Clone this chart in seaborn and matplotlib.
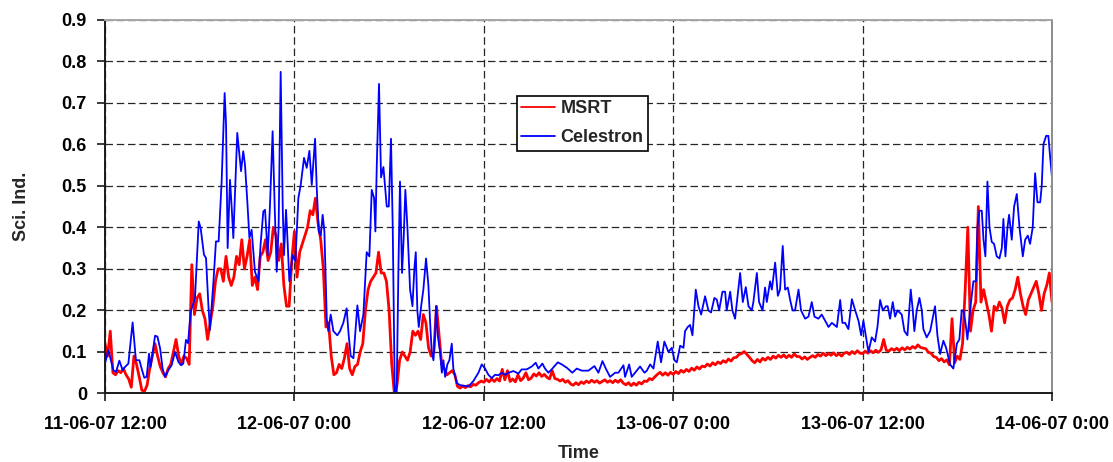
import numpy as np
import pandas as pd
import matplotlib
matplotlib.use("Agg")
import matplotlib.pyplot as plt
import seaborn as sns

# Scintillation index records, starting 11-06-07 12:00
start_time = pd.Timestamp("2007-06-11 12:00")
series_names = ["MSRT", "Celestron"]
series_colors = ["#FF0000", "#0000FF"]

# MSRT: one value every 10 minutes (one row per hour)
msrt_step_minutes = 10
msrt_values = [
    0.12, 0.09, 0.15, 0.05, 0.045, 0.055,     # hour 0
    0.05, 0.06, 0.045, 0.035, 0.015, 0.09,
    0.07, 0.04, 0.008, 0.005, 0.02, 0.06,
    0.09, 0.12, 0.09, 0.065, 0.05, 0.04,
    0.06, 0.07, 0.10, 0.13, 0.09, 0.07,
    0.09, 0.085, 0.07, 0.31, 0.19, 0.23,      # hour 5
    0.24, 0.20, 0.18, 0.13, 0.17, 0.21,
    0.27, 0.30, 0.30, 0.27, 0.33, 0.28,
    0.26, 0.28, 0.33, 0.31, 0.37, 0.30,
    0.33, 0.37, 0.26, 0.28, 0.25, 0.33,
    0.34, 0.37, 0.32, 0.34, 0.40, 0.38,       # hour 10
    0.32, 0.36, 0.26, 0.21, 0.21, 0.32,
    0.39, 0.28, 0.34, 0.36, 0.38, 0.40,
    0.44, 0.43, 0.47, 0.41, 0.37, 0.30,
    0.16, 0.17, 0.09, 0.045, 0.05, 0.07,
    0.06, 0.085, 0.12, 0.06, 0.045, 0.065,    # hour 15
    0.07, 0.10, 0.12, 0.20, 0.25, 0.27,
    0.28, 0.29, 0.34, 0.29, 0.29, 0.27,
    0.20, 0.07, 0.00, 0.02, 0.08, 0.10,
    0.09, 0.08, 0.10, 0.15, 0.14, 0.15,
    0.13, 0.19, 0.17, 0.11, 0.09, 0.10,       # hour 20
    0.21, 0.14, 0.07, 0.06, 0.045, 0.05,
    0.055, 0.045, 0.017, 0.013, 0.018, 0.014,
    0.019, 0.016, 0.022, 0.020, 0.026, 0.030,
    0.027, 0.034, 0.028, 0.035, 0.029, 0.036,
    0.030, 0.058, 0.033, 0.055, 0.029, 0.035,  # hour 25
    0.028, 0.045, 0.031, 0.037, 0.050, 0.033,
    0.037, 0.047, 0.042, 0.050, 0.041, 0.046,
    0.039, 0.035, 0.055, 0.036, 0.034, 0.030,
    0.034, 0.027, 0.031, 0.023, 0.020, 0.026,
    0.021, 0.028, 0.024, 0.030, 0.026, 0.032,  # hour 30
    0.027, 0.031, 0.025, 0.029, 0.033, 0.027,
    0.031, 0.026, 0.032, 0.027, 0.033, 0.025,
    0.021, 0.026, 0.019, 0.025, 0.020, 0.027,
    0.023, 0.030, 0.029, 0.036, 0.033, 0.040,
    0.046, 0.051, 0.044, 0.050, 0.044, 0.051,  # hour 35
    0.046, 0.053, 0.048, 0.056, 0.051, 0.058,
    0.053, 0.061, 0.056, 0.064, 0.059, 0.066,
    0.064, 0.071, 0.066, 0.074, 0.069, 0.076,
    0.072, 0.079, 0.075, 0.083, 0.078, 0.086,
    0.087, 0.094, 0.096, 0.101, 0.094, 0.087,  # hour 40
    0.079, 0.074, 0.082, 0.076, 0.085, 0.080,
    0.087, 0.082, 0.090, 0.085, 0.092, 0.087,
    0.093, 0.086, 0.092, 0.087, 0.095, 0.089,
    0.089, 0.083, 0.088, 0.082, 0.087, 0.091,
    0.087, 0.094, 0.090, 0.097, 0.091, 0.096,  # hour 45
    0.092, 0.098, 0.091, 0.096, 0.090, 0.097,
    0.099, 0.094, 0.101, 0.096, 0.103, 0.097,
    0.096, 0.102, 0.097, 0.103, 0.098, 0.104,
    0.099, 0.105, 0.130, 0.104, 0.102, 0.108,
    0.104, 0.109, 0.103, 0.110, 0.105, 0.111,  # hour 50
    0.107, 0.113, 0.109, 0.117, 0.111, 0.109,
    0.108, 0.099, 0.097, 0.089, 0.087, 0.079,
    0.084, 0.076, 0.081, 0.069, 0.180, 0.074,
    0.090, 0.082, 0.120, 0.250, 0.400, 0.150,
    0.200, 0.220, 0.450, 0.220, 0.250, 0.220,  # hour 55
    0.190, 0.150, 0.210, 0.200, 0.220, 0.205,
    0.170, 0.210, 0.225, 0.230, 0.250, 0.280,
    0.240, 0.210, 0.190, 0.225, 0.240, 0.255,
    0.270, 0.240, 0.200, 0.240, 0.260, 0.290,
    0.220,                                     # hour 60
]

# Celestron: readings at irregular times (hours after start)
celestron_hours = [
    0.00, 0.21, 0.53, 0.70, 0.91, 1.12, 1.27, 1.48, 1.75, 1.96,
    2.18, 2.32, 2.49, 2.64, 2.79, 2.89, 3.17, 3.32, 3.49, 3.65,
    3.80, 4.01, 4.22, 4.44, 4.65, 4.82, 4.96, 5.13, 5.26, 5.43,
    5.70, 5.94, 6.06, 6.27, 6.40, 6.55, 6.65, 6.87, 7.03, 7.20,
    7.39, 7.58, 7.67, 7.77, 7.92, 8.03, 8.13, 8.38, 8.62, 8.76,
    8.87, 9.02, 9.15, 9.29, 9.50, 9.72, 9.86, 10.03, 10.14, 10.31,
    10.45, 10.62, 10.75, 10.88, 11.00, 11.13, 11.26, 11.34, 11.47, 11.55,
    11.68, 11.89, 12.06, 12.25, 12.40, 12.61, 12.78, 12.95, 13.10, 13.31,
    13.41, 13.54, 13.67, 13.79, 13.90, 14.05, 14.15, 14.30, 14.47, 14.72,
    14.89, 15.10, 15.31, 15.44, 15.57, 15.74, 15.99, 16.16, 16.37, 16.58,
    16.75, 16.90, 17.05, 17.13, 17.22, 17.36, 17.49, 17.64, 17.85, 17.98,
    18.12, 18.23, 18.36, 18.48, 18.59, 18.69, 18.82, 18.93, 19.03, 19.16,
    19.33, 19.48, 19.60, 19.69, 19.79, 19.88, 20.03, 20.17, 20.34, 20.49,
    20.60, 20.70, 20.81, 20.91, 20.98, 21.08, 21.23, 21.34, 21.44, 21.55,
    21.69, 21.82, 21.97, 22.07, 22.29, 22.50, 23.03, 23.34, 23.66, 23.87,
    24.08, 24.29, 24.50, 24.71, 24.92, 25.14, 25.35, 25.56, 25.88, 26.19,
    26.40, 26.72, 27.04, 27.29, 27.46, 27.71, 27.88, 28.09, 28.30, 28.69,
    28.94, 29.26, 29.61, 29.89, 30.21, 30.63, 31.01, 31.26, 31.52, 31.73,
    32.00, 32.32, 32.53, 32.85, 32.95, 33.21, 33.37, 33.69, 33.90, 34.18,
    34.33, 34.54, 34.75, 35.02, 35.23, 35.44, 35.70, 35.91, 36.08, 36.23,
    36.44, 36.65, 36.75, 36.92, 37.07, 37.22, 37.43, 37.60, 37.77, 38.02,
    38.23, 38.40, 38.61, 38.76, 38.91, 39.12, 39.29, 39.39, 39.61, 39.75,
    39.92, 40.24, 40.41, 40.60, 40.77, 40.98, 41.08, 41.30, 41.44, 41.66,
    41.82, 41.93, 42.14, 42.25, 42.46, 42.63, 42.77, 42.94, 43.09, 43.26,
    43.41, 43.56, 43.72, 43.94, 44.10, 44.36, 44.57, 44.78, 44.95, 45.20,
    45.41, 45.63, 45.84, 46.05, 46.37, 46.58, 46.72, 46.89, 47.10, 47.32,
    47.53, 47.74, 47.91, 48.05, 48.20, 48.37, 48.58, 48.79, 48.94, 49.11,
    49.28, 49.49, 49.59, 49.74, 49.91, 50.06, 50.21, 50.48, 50.65, 50.84,
    51.05, 51.18, 51.28, 51.43, 51.60, 51.75, 51.85, 52.06, 52.28, 52.59,
    52.74, 52.91, 53.12, 53.29, 53.54, 53.75, 53.97, 54.13, 54.28, 54.39,
    54.52, 54.64, 54.81, 55.02, 55.19, 55.28, 55.40, 55.55, 55.66, 55.78,
    55.91, 56.04, 56.18, 56.33, 56.50, 56.67, 56.82, 56.92, 57.05, 57.18,
    57.28, 57.45, 57.60, 57.77, 57.94, 58.15, 58.30, 58.47, 58.61, 58.78,
    58.93, 59.08, 59.25, 59.35, 59.46, 59.63, 59.77, 59.88, 60.00,
]
celestron_values = [
    0.072, 0.105, 0.056, 0.052, 0.079, 0.056, 0.064, 0.072, 0.171, 0.080,
    0.080, 0.060, 0.038, 0.040, 0.096, 0.064, 0.139, 0.137, 0.109, 0.060,
    0.040, 0.056, 0.068, 0.100, 0.076, 0.068, 0.072, 0.129, 0.121, 0.197,
    0.229, 0.414, 0.398, 0.334, 0.326, 0.213, 0.153, 0.269, 0.366, 0.366,
    0.510, 0.723, 0.647, 0.350, 0.514, 0.446, 0.374, 0.627, 0.535, 0.583,
    0.550, 0.460, 0.374, 0.394, 0.293, 0.270, 0.360, 0.438, 0.442, 0.333,
    0.450, 0.631, 0.450, 0.293, 0.400, 0.774, 0.450, 0.333, 0.442, 0.380,
    0.270, 0.333, 0.318, 0.470, 0.502, 0.567, 0.543, 0.584, 0.502, 0.613,
    0.500, 0.390, 0.380, 0.430, 0.390, 0.180, 0.150, 0.190, 0.150, 0.140,
    0.150, 0.170, 0.205, 0.140, 0.090, 0.085, 0.212, 0.150, 0.190, 0.340,
    0.330, 0.490, 0.470, 0.390, 0.550, 0.745, 0.520, 0.545, 0.450, 0.450,
    0.613, 0.400, 0.000, 0.000, 0.300, 0.510, 0.290, 0.380, 0.490, 0.400,
    0.250, 0.210, 0.300, 0.340, 0.200, 0.160, 0.210, 0.250, 0.325, 0.260,
    0.170, 0.100, 0.080, 0.140, 0.210, 0.140, 0.100, 0.050, 0.080, 0.040,
    0.070, 0.080, 0.120, 0.060, 0.025, 0.020, 0.017, 0.030, 0.050, 0.070,
    0.060, 0.045, 0.037, 0.045, 0.044, 0.050, 0.045, 0.050, 0.054, 0.048,
    0.058, 0.058, 0.065, 0.074, 0.060, 0.072, 0.060, 0.050, 0.058, 0.075,
    0.070, 0.062, 0.050, 0.060, 0.055, 0.055, 0.066, 0.050, 0.078, 0.060,
    0.040, 0.050, 0.050, 0.068, 0.040, 0.070, 0.040, 0.055, 0.065, 0.050,
    0.055, 0.070, 0.060, 0.125, 0.075, 0.125, 0.100, 0.110, 0.080, 0.075,
    0.115, 0.110, 0.150, 0.160, 0.165, 0.140, 0.250, 0.210, 0.190, 0.234,
    0.200, 0.195, 0.230, 0.226, 0.200, 0.245, 0.245, 0.200, 0.245, 0.200,
    0.180, 0.290, 0.220, 0.256, 0.210, 0.200, 0.220, 0.290, 0.220, 0.200,
    0.255, 0.220, 0.270, 0.250, 0.315, 0.235, 0.250, 0.355, 0.250, 0.255,
    0.225, 0.200, 0.200, 0.250, 0.200, 0.180, 0.185, 0.220, 0.185, 0.180,
    0.190, 0.175, 0.160, 0.170, 0.160, 0.225, 0.170, 0.170, 0.155, 0.227,
    0.200, 0.175, 0.140, 0.175, 0.140, 0.100, 0.135, 0.125, 0.160, 0.225,
    0.200, 0.210, 0.210, 0.180, 0.220, 0.185, 0.200, 0.190, 0.150, 0.140,
    0.250, 0.200, 0.150, 0.200, 0.230, 0.200, 0.155, 0.135, 0.150, 0.210,
    0.140, 0.095, 0.127, 0.110, 0.070, 0.060, 0.120, 0.130, 0.200, 0.200,
    0.170, 0.130, 0.200, 0.270, 0.270, 0.400, 0.440, 0.440, 0.370, 0.330,
    0.510, 0.400, 0.365, 0.360, 0.330, 0.325, 0.350, 0.420, 0.330, 0.400,
    0.430, 0.370, 0.450, 0.480, 0.400, 0.330, 0.370, 0.380, 0.360, 0.400,
    0.530, 0.460, 0.460, 0.500, 0.600, 0.620, 0.620, 0.570, 0.520,
]

y_ticks = [0.0, 0.1, 0.2, 0.3, 0.4, 0.5, 0.6, 0.7, 0.8, 0.9]
y_tick_labels = ["0", "0.1", "0.2", "0.3", "0.4", "0.5", "0.6", "0.7", "0.8", "0.9"]
x_tick_hours = [0, 12, 24, 36, 48, 60]
x_tick_labels = ["11-06-07 12:00", "12-06-07 0:00", "12-06-07 12:00",
                 "13-06-07 0:00", "13-06-07 12:00", "14-06-07 0:00"]

sns.set_style("ticks")
plt.rcParams["font.family"] = ["Liberation Sans", "DejaVu Sans"]
plt.rcParams["font.weight"] = "bold"
plt.rcParams["axes.labelweight"] = "bold"

msrt_time = start_time + pd.to_timedelta(
    np.arange(len(msrt_values)) * msrt_step_minutes, unit="min")
celestron_time = start_time + pd.to_timedelta(np.array(celestron_hours), unit="h")

df = pd.concat([
    pd.DataFrame({"Time": msrt_time, "Sci. Ind.": msrt_values,
                  "Instrument": series_names[0]}),
    pd.DataFrame({"Time": celestron_time, "Sci. Ind.": celestron_values,
                  "Instrument": series_names[1]}),
], ignore_index=True)

fig = plt.figure(figsize=(11.13, 4.62), dpi=100)
ax = fig.add_axes([0.09434, 0.14827, 0.85085, 0.80952])

sns.lineplot(data=df, x="Time", y="Sci. Ind.", hue="Instrument",
             hue_order=series_names, palette=series_colors,
             estimator=None, sort=False, legend=False, ax=ax)
ax.lines[0].set_linewidth(2.0)
ax.lines[1].set_linewidth(1.3)

# Axes limits and ticks
ax.set_ylim(0, 0.9)
ax.set_yticks(y_ticks)
ax.set_yticklabels(y_tick_labels)
x_tick_times = [start_time + pd.Timedelta(hours=h) for h in x_tick_hours]
ax.set_xlim(x_tick_times[0], x_tick_times[-1])
ax.set_xticks(x_tick_times)
ax.set_xticklabels(x_tick_labels)

ax.tick_params(axis="both", direction="out", length=6, width=1.2,
               color="#1a1a1a", labelsize=13, labelcolor="black")
ax.tick_params(axis="x", pad=10)
ax.tick_params(axis="y", pad=7)

# Dashed grid
ax.set_axisbelow(True)
ax.grid(True, axis="both", color="#262626", linestyle=(0, (6, 3)), linewidth=0.9)

# Spines
for side in ("left", "bottom"):
    ax.spines[side].set_color("#1a1a1a")
    ax.spines[side].set_linewidth(1.4)
ax.spines["top"].set_color("#a6a6a6")
ax.spines["right"].set_color("#8c8c8c")
ax.spines["top"].set_linewidth(1.4)
ax.spines["right"].set_linewidth(1.4)

# Axis labels
ax.set_xlabel("Time", fontsize=13, fontweight="bold")
ax.set_ylabel("Sci. Ind.", fontsize=13, fontweight="bold")
ax.xaxis.set_label_coords(0.5, -0.139)
ax.yaxis.set_label_coords(-0.0787, 0.5)

# Legend
leg = ax.legend(ax.lines[:2], series_names, loc="upper left",
                bbox_to_anchor=(0.435, 0.7955), borderaxespad=0,
                frameon=True, fancybox=False, framealpha=1,
                edgecolor="black", fontsize=13, handlelength=1.85,
                handletextpad=0.3, labelspacing=0.65, borderpad=0.25)
leg.get_frame().set_linewidth(1.2)
for line in leg.get_lines():
    line.set_linewidth(1.3)

fig.savefig("out.png", dpi=100)
